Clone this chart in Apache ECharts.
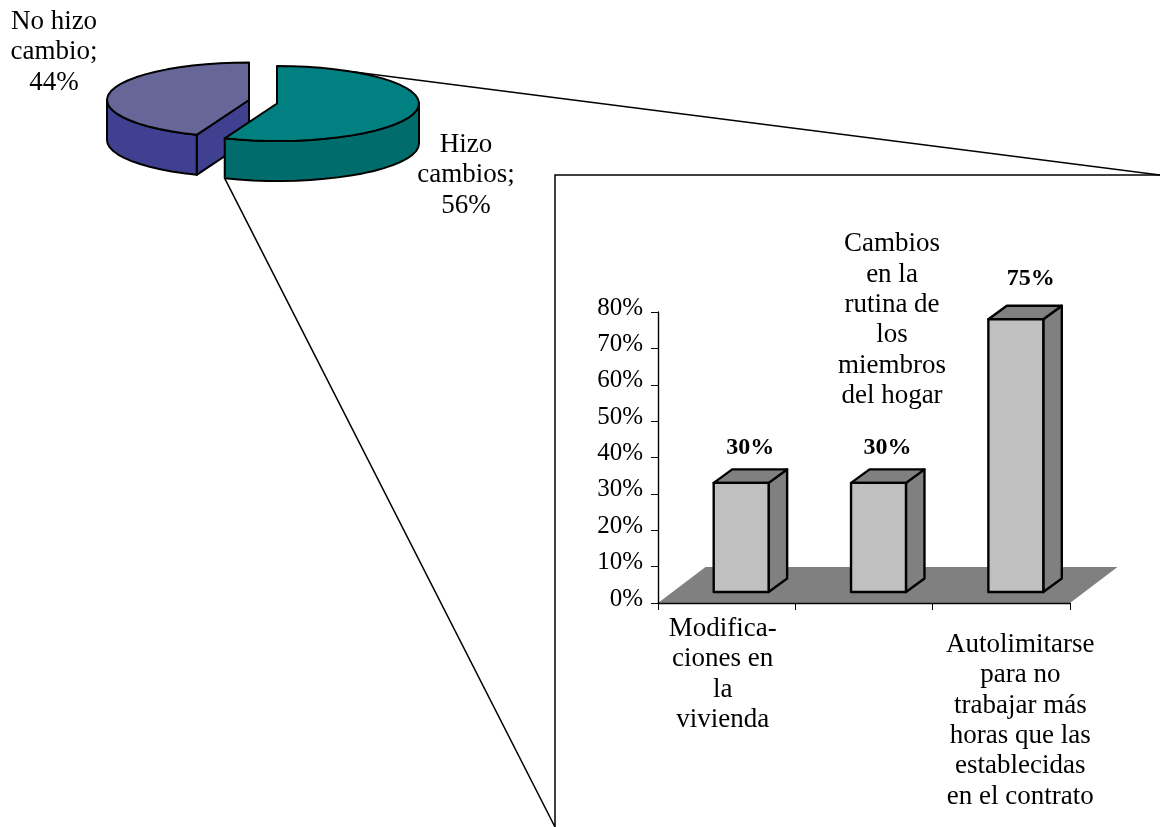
<!DOCTYPE html>
<html>
<head>
<meta charset="utf-8">
<style>html,body{margin:0;padding:0;background:#fff}#chart{width:1160px;height:827px}</style>
<script src="https://cdn.jsdelivr.net/npm/echarts@6/dist/echarts.min.js"></script>
</head>
<body>
<div id="chart"></div>
<script>
// Share of households that did or did not make changes
const pieNames = ['No hizo\ncambio;', 'Hizo\ncambios;'];
const pieValues = [44, 56];

// Breakdown of the kinds of change among those who did
const categories = [
  'Modifica-\nciones en\nla\nvivienda',
  'Cambios\nen la\nrutina de\nlos\nmiembros\ndel hogar',
  'Autolimitarse\npara no\ntrabajar más\nhoras que las\nestablecidas\nen el contrato'
];
const changeValues = [30, 30, 75];
const yTicks = [0, 10, 20, 30, 40, 50, 60, 70, 80];

// Layout of the exploded pie: each slice has its own apex
const FONT = '"Liberation Serif", serif';
const FONT_SIZE = 27;
const TICK_FONT_SIZE = 25;
const LINE_H = 30.4;
const RX = 142, RY = 37.5, PIE_DEPTH = 40;
const sliceStyle = [
  { cx: 249, cy: 100, top: '#666699', side: '#404090', labelX: 54, labelY: 6.5 },
  { cx: 277, cy: 103.5, top: '#008080', side: '#006c6c', labelX: 466, labelY: 129.5 }
];
// Turn a clockwise angle from twelve o'clock into a point on a slice's rim
function rim(s, deg, drop) {
  const t = deg * Math.PI / 180;
  return [s.cx + RX * Math.sin(t), s.cy - RY * Math.cos(t) + (drop || 0)];
}
function arcPoints(s, from, to, drop) {
  const pts = [];
  const n = Math.max(2, Math.ceil(Math.abs(to - from) / 6));
  for (let i = 0; i <= n; i++) pts.push(rim(s, from + (to - from) * i / n, drop));
  return pts;
}
const total = pieValues.reduce((a, b) => a + b, 0);
// The teal slice starts at twelve o'clock; the other takes the remaining sweep
const sweep = pieValues[1] / total * 360;
const sliceRange = [[sweep, 360], [0, sweep]];

const EDGE = { stroke: '#000', lineWidth: 2, lineJoin: 'round' };

function renderSlice(params) {
  const i = params.dataIndex, s = sliceStyle[i];
  const from = sliceRange[i][0], to = sliceRange[i][1];
  const children = [];
  const apex = [s.cx, s.cy];
  const apexLow = [s.cx, s.cy + PIE_DEPTH];
  const polygon = (points, fill) => ({
    type: 'polygon', shape: { points }, style: Object.assign({ fill }, EDGE)
  });
  // Flat cut face, then the curved wall on the visible half, then the top
  if (i === 0) {
    const a = rim(s, from), b = rim(s, from, PIE_DEPTH);
    children.push(polygon([a, apex, apexLow, b], s.side));
    const wallEnd = 270;
    children.push(polygon(arcPoints(s, from, wallEnd).concat(arcPoints(s, wallEnd, from, PIE_DEPTH)), s.side));
  } else {
    const wallStart = 90;
    children.push(polygon(arcPoints(s, wallStart, to).concat(arcPoints(s, to, wallStart, PIE_DEPTH)), s.side));
  }
  children.push(polygon([apex].concat(arcPoints(s, from, to)), s.top));
  children.push({
    type: 'text',
    style: {
      text: pieNames[i] + '\n' + pieValues[i] + '%',
      x: s.labelX, y: s.labelY, align: 'center', verticalAlign: 'top',
      fontFamily: FONT, fontSize: FONT_SIZE, lineHeight: LINE_H, fill: '#000'
    }
  });
  return { type: 'group', children };
}

// Oblique projection of the bar chart's floor and of each bar's depth
const FLOOR_DX = 47.5, FLOOR_DY = 36;
const BAR_DX = 18.5, BAR_DY = 13.5;
const BAR_INSET_DX = 14.5, BAR_INSET_DY = 11;
const BAR_RATIO = 0.4;
const valueShiftX = [9, 9, 15];
const valueShiftY = [22, 22, 27];
const categoryAnchors = [
  { dx: -4, y: 613.5 },
  { dx: 28, y: 229 },
  { dx: 19, y: 629.5 }
];

function renderFloor(params, api) {
  const size = api.size([1, 0])[0];
  const l = api.coord([0, 0])[0] - size / 2;
  const r = api.coord([categories.length - 1, 0])[0] + size / 2;
  const y = api.coord([0, 0])[1];
  return {
    type: 'polygon',
    shape: { points: [[l, y], [l + FLOOR_DX, y - FLOOR_DY], [r + FLOOR_DX, y - FLOOR_DY], [r, y]] },
    style: { fill: '#808080', stroke: 'none' }
  };
}

function renderBar(params, api) {
  const i = params.dataIndex, v = api.value(1);
  const base = api.coord([i, 0]), head = api.coord([i, v]);
  const w = api.size([1, 0])[0] * BAR_RATIO;
  const x0 = base[0] + BAR_INSET_DX - w / 2, x1 = x0 + w;
  const y0 = base[1] - BAR_INSET_DY, y1 = head[1] - BAR_INSET_DY;
  const style = fill => Object.assign({ fill }, EDGE, { lineWidth: 2.4 });
  const anchor = categoryAnchors[i];
  return {
    type: 'group',
    children: [
      { type: 'polygon', shape: { points: [[x1, y1], [x1 + BAR_DX, y1 - BAR_DY], [x1 + BAR_DX, y0 - BAR_DY], [x1, y0]] }, style: style('#808080') },
      { type: 'polygon', shape: { points: [[x0, y1], [x0 + BAR_DX, y1 - BAR_DY], [x1 + BAR_DX, y1 - BAR_DY], [x1, y1]] }, style: style('#808080') },
      { type: 'polygon', shape: { points: [[x0, y1], [x1, y1], [x1, y0], [x0, y0]] }, style: style('#C0C0C0') },
      {
        type: 'text',
        style: {
          text: v + '%', x: (x0 + x1) / 2 + valueShiftX[i], y: y1 - BAR_DY - valueShiftY[i],
          align: 'center', verticalAlign: 'middle', fontFamily: FONT, fontSize: 24, fontWeight: 'bold', fill: '#000'
        }
      },
      {
        type: 'text',
        style: {
          text: categories[i], x: base[0] + anchor.dx, y: anchor.y,
          align: 'center', verticalAlign: 'top', fontFamily: FONT, fontSize: FONT_SIZE, lineHeight: LINE_H, fill: '#000'
        }
      }
    ]
  };
}

// Zoom lines run from the teal slice out to the inset frame
const zoomStart = rim(sliceStyle[1], 33);
const zoomEnd = rim(sliceStyle[1], sweep, PIE_DEPTH);
const FRAME = { left: 555, top: 175, right: 1160, bottom: 827 };

const chart = echarts.init(document.getElementById('chart'), null, { renderer: 'canvas' });
chart.setOption({
  animation: false,
  backgroundColor: '#fff',
  grid: { left: 658, top: 312, width: 412, height: 291, containLabel: false },
  xAxis: {
    type: 'category', data: categories, z: 6,
    axisLine: { show: true, lineStyle: { color: '#000', width: 1.4 } },
    axisTick: { show: true, length: 7, alignWithLabel: false, lineStyle: { color: '#000', width: 1 } },
    axisLabel: { show: false }
  },
  yAxis: {
    type: 'value', min: 0, max: 80, interval: 10, z: 6,
    axisLine: { show: true, lineStyle: { color: '#000', width: 1.4 } },
    axisTick: { show: true, length: 7, lineStyle: { color: '#000', width: 1 } },
    splitLine: { show: false },
    axisLabel: {
      margin: 15, color: '#000', fontFamily: FONT, fontSize: TICK_FONT_SIZE,
      verticalAlign: 'bottom', lineHeight: 8,
      formatter: v => yTicks.includes(v) ? v + '%' : ''
    }
  },
  graphic: [{
    type: 'polyline', z: 1, silent: true,
    shape: { points: [zoomStart, [FRAME.right, FRAME.top]] },
    style: { stroke: '#000', lineWidth: 1.5, fill: 'none' }
  }, {
    type: 'polyline', z: 1, silent: true,
    shape: { points: [[FRAME.right, FRAME.top], [FRAME.left, FRAME.top], [FRAME.left, FRAME.bottom], zoomEnd] },
    style: { stroke: '#000', lineWidth: 1.5, fill: 'none' }
  }],
  series: [
    { type: 'custom', coordinateSystem: 'cartesian2d', z: 3, data: [[0, 0]], renderItem: renderFloor },
    { type: 'custom', coordinateSystem: 'cartesian2d', z: 7, data: changeValues.map((v, i) => [i, v]), encode: { x: 0, y: 1 }, renderItem: renderBar },
    { type: 'custom', coordinateSystem: 'none', z: 4, data: pieValues, renderItem: renderSlice }
  ]
});
</script>
</body>
</html>
